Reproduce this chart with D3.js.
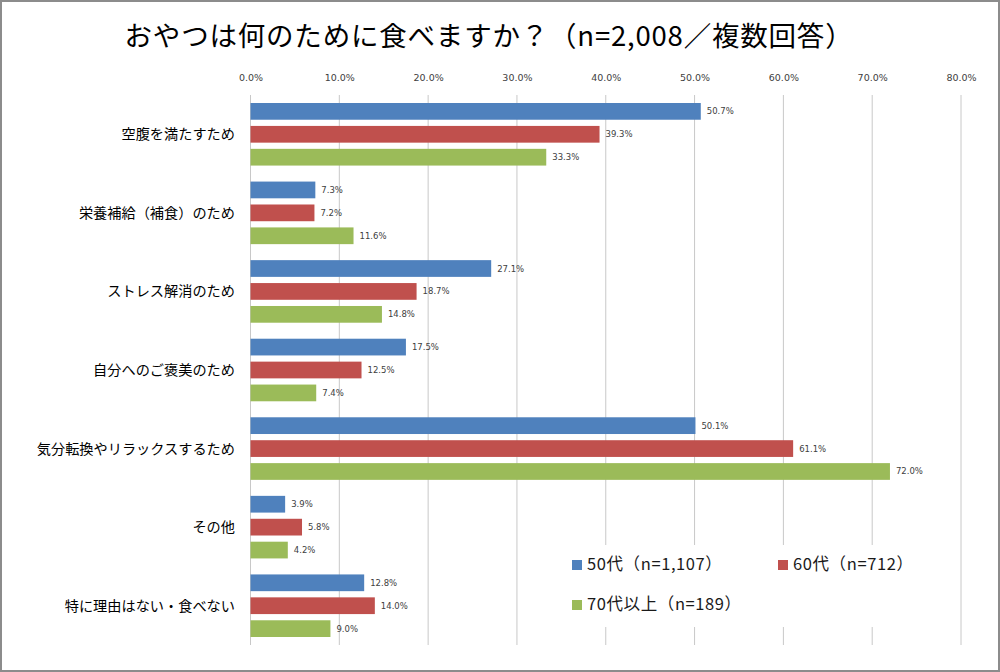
<!DOCTYPE html>
<html><head><meta charset="utf-8">
<script src="https://cdn.jsdelivr.net/npm/d3@7"></script>
<style>body{margin:0;background:#fff}svg{display:block}</style>
</head><body>
<svg id="c" width="1000" height="672"></svg>
<script>
const title = "おやつは何のために食べますか？（n=2,008／複数回答）";
const categories = ["空腹を満たすため","栄養補給（補食）のため","ストレス解消のため","自分へのご褒美のため","気分転換やリラックスするため","その他","特に理由はない・食べない"];
const seriesNames = ["50代（n=1,107）","60代（n=712）","70代以上（n=189）"];
const s50 = [50.7,7.3,27.1,17.5,50.1,3.9,12.8];
const s60 = [39.3,7.2,18.7,12.5,61.1,5.8,14.0];
const s70 = [33.3,11.6,14.8,7.4,72.0,4.2,9.0];
const ticks = [0,10,20,30,40,50,60,70,80];
const colors = ["#4F81BD","#C0504D","#9BBB59"];
const series = [s50,s60,s70];

const svg = d3.select("#c");
const jp = "'Noto Sans CJK JP','Noto Sans',sans-serif";
const num = "'DejaVu Sans',Verdana,sans-serif";

svg.append("rect").attr("x",1).attr("y",1).attr("width",998).attr("height",670)
  .attr("fill","#fff").attr("stroke","#8c8c8c").attr("stroke-width",2);

svg.append("text").attr("x",489).attr("y",46).attr("text-anchor","middle")
  .attr("font-family",jp).attr("font-size",27.5).attr("letter-spacing",0.8)
  .attr("fill","#000").text(title);

const x = d3.scaleLinear().domain([0,80]).range([250.5,961]);
const y = d3.scaleBand().domain(categories).range([95,645]);
const yi = d3.scaleBand().domain([0,1,2]).range([8,y.bandwidth()-8]).paddingInner(0.27);

// gridlines
svg.append("g").selectAll("line").data(ticks).join("line")
  .attr("x1",d=>x(d)).attr("x2",d=>x(d)).attr("y1",95).attr("y2",645)
  .attr("stroke","#c8c8c8").attr("stroke-width",1);

// top axis labels
const ax = svg.append("g").attr("transform","translate(0,84)")
  .call(d3.axisTop(x).tickValues(ticks).tickSize(0).tickFormat(d=>d.toFixed(1)+"%"));
ax.select(".domain").remove();
ax.selectAll("text").attr("font-family",num).attr("font-size",9.5).attr("fill","#404040");

// category labels
svg.append("g").selectAll("text").data(categories).join("text")
  .attr("x",235).attr("y",d=>y(d)+y.bandwidth()/2+5).attr("text-anchor","end")
  .attr("font-family",jp).attr("font-size",14.2).attr("fill","#000").text(d=>d);

// bars
series.forEach((s,si)=>{
  const g = svg.append("g");
  g.selectAll("rect").data(s).join("rect")
    .attr("x",x(0)).attr("y",(d,i)=>y(categories[i])+yi(si))
    .attr("width",d=>x(d)-x(0)).attr("height",yi.bandwidth()).attr("fill",colors[si]);
  g.selectAll("text").data(s).join("text")
    .attr("x",d=>x(d)+6).attr("y",(d,i)=>y(categories[i])+yi(si)+yi.bandwidth()/2+3)
    .attr("font-family",num).attr("font-size",8.5).attr("fill","#404040")
    .text(d=>d.toFixed(1)+"%");
});

// legend
svg.append("rect").attr("x",556).attr("y",545).attr("width",398).attr("height",82).attr("fill","#fff");
const legPos = [[572,564],[778,564],[572,604]];
seriesNames.forEach((n,i)=>{
  const [lx,ly]=legPos[i];
  svg.append("rect").attr("x",lx).attr("y",ly-4).attr("width",10).attr("height",10).attr("fill",colors[i]);
  svg.append("text").attr("x",lx+15).attr("y",ly+6).attr("font-family",jp)
    .attr("font-size",16.5).attr("letter-spacing",0.6).attr("fill","#1a1a1a").text(n);
});
</script>
</body></html>
